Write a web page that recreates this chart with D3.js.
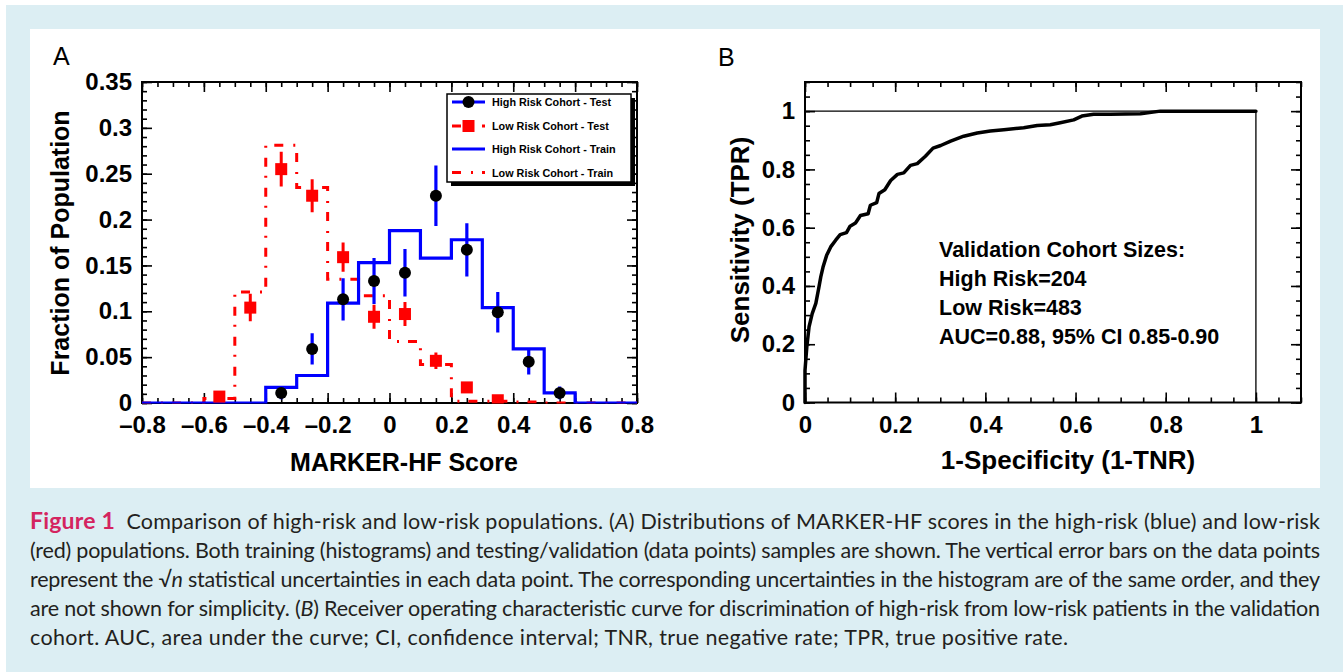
<!DOCTYPE html>
<html>
<head>
<meta charset="utf-8">
<script src="https://cdn.jsdelivr.net/npm/d3@7"></script>
<style>
  body { margin: 0; background: #fff; }
  svg { display: block; }
</style>
</head>
<body>
<svg id="fig"></svg>
<script>
// ---- panel A data ----
const binEdges = [-0.8, -0.7, -0.6, -0.5, -0.4, -0.3, -0.2, -0.1, 0, 0.1, 0.2, 0.3, 0.4, 0.5, 0.6, 0.7, 0.8]
const highTrain = [0, 0, 0, 0, 0.017, 0.030, 0.109, 0.153, 0.188, 0.158, 0.178, 0.104, 0.059, 0.011, 0, 0]
const lowTrain = [0, 0, 0.005, 0.121, 0.281, 0.235, 0.135, 0.117, 0.067, 0.042, 0.002, 0.002, 0.001, 0, 0, 0]

const highTestX = [-0.35, -0.25, -0.15, -0.05, 0.05, 0.15, 0.25, 0.35, 0.45, 0.55]
const highTestY = [0.011, 0.059, 0.113, 0.133, 0.142, 0.226, 0.167, 0.099, 0.045, 0.011]
const highTestErr = [0.007, 0.017, 0.023, 0.025, 0.026, 0.033, 0.029, 0.022, 0.014, 0.007]

const lowTestX = [-0.55, -0.45, -0.35, -0.25, -0.15, -0.05, 0.05, 0.15, 0.25, 0.35]
const lowTestY = [0.007, 0.104, 0.255, 0.226, 0.159, 0.094, 0.097, 0.046, 0.017, 0.003]
const lowTestErr = [0.004, 0.015, 0.019, 0.018, 0.016, 0.013, 0.013, 0.009, 0.006, 0.002]

const legendLabels = ['High Risk Cohort - Test', 'Low Risk Cohort - Test', 'High Risk Cohort - Train', 'Low Risk Cohort - Train']

const xTicksA = [-0.8, -0.6, -0.4, -0.2, 0, 0.2, 0.4, 0.6, 0.8]
const xTickLabelsA = ['\u20130.8', '\u20130.6', '\u20130.4', '\u20130.2', '0', '0.2', '0.4', '0.6', '0.8']
const yTicksA = [0, 0.05, 0.1, 0.15, 0.2, 0.25, 0.3, 0.35]
const yTickLabelsA = ['0', '0.05', '0.1', '0.15', '0.2', '0.25', '0.3', '0.35']

// ---- panel B data ----
const rocFPR = [0, 0, 0.004, 0.009, 0.016, 0.024, 0.031, 0.035, 0.040, 0.048, 0.057, 0.068, 0.078, 0.092, 0.100,
  0.112, 0.123, 0.140, 0.145, 0.159, 0.164, 0.177, 0.190, 0.205, 0.219, 0.234, 0.249, 0.267, 0.284, 0.301,
  0.323, 0.352, 0.382, 0.411, 0.441, 0.485, 0.515, 0.544, 0.566, 0.596, 0.614, 0.640, 0.677, 0.744, 0.788, 1]
const rocTPR = [0, 0.11, 0.19, 0.26, 0.305, 0.34, 0.397, 0.431, 0.465, 0.505, 0.534, 0.557, 0.576, 0.583, 0.605,
  0.616, 0.642, 0.648, 0.677, 0.686, 0.717, 0.730, 0.762, 0.783, 0.788, 0.814, 0.820, 0.845, 0.873, 0.882,
  0.897, 0.914, 0.925, 0.932, 0.936, 0.943, 0.951, 0.953, 0.960, 0.970, 0.983, 0.989, 0.989, 0.991, 1.0, 1.0]

const xTicksB = [0, 0.2, 0.4, 0.6, 0.8, 1]
const xTickLabelsB = ['0', '0.2', '0.4', '0.6', '0.8', '1']
const yTicksB = [0, 0.2, 0.4, 0.6, 0.8, 1]
const yTickLabelsB = ['0', '0.2', '0.4', '0.6', '0.8', '1']
const noteLines = ['Validation Cohort Sizes:', 'High Risk=204', 'Low Risk=483', 'AUC=0.88, 95% CI 0.85-0.90']

const captionLines = [
  [['Figure 1', 'fig'], ['  Comparison of high-risk and low-risk populations. (', ''], ['A', 'i'], [') Distributions of MARKER-HF scores in the high-risk (blue) and low-risk', '']],
  [['(red) populations. Both training (histograms) and testing/validation (data points) samples are shown. The vertical error bars on the data points', '']],
  [['represent the ', ''], ['\u221A', ''], ['n', 'i'], [' statistical uncertainties in each data point. The corresponding uncertainties in the histogram are of the same order, and they', '']],
  [['are not shown for simplicity. (', ''], ['B', 'i'], [') Receiver operating characteristic curve for discrimination of high-risk from low-risk patients in the validation', '']],
  [['cohort. AUC, area under the curve; CI, confidence interval; TNR, true negative rate; TPR, true positive rate.', '']]
]

const W = 1343, H = 672
const axisFont = '"Liberation Sans", Arial, Helvetica, sans-serif'
const blue = '#0000ff', red = '#ff0000'
const redDash = '9,10,2,9'

const svg = d3.select('#fig').attr('width', W).attr('height', H)

// background
svg.append('rect').attr('width', W).attr('height', H).attr('fill', '#fff')
svg.append('rect').attr('x', 6).attr('y', 5).attr('width', W - 6).attr('height', H - 5).attr('fill', '#dceef3')
svg.append('rect').attr('x', 30).attr('y', 29).attr('width', 1290).attr('height', 459).attr('fill', '#fff')

function drawTicks(g, x, y, xMajor, xMinor, yMajor, yMinor, xFmt, yFmt, xPad) {
  const [x0, x1] = x.range()
  const [y0, y1] = y.range()
  const style = sel => {
    sel.select('.domain').remove()
    sel.selectAll('line').attr('stroke', '#000').attr('stroke-width', 1.6)
    sel.selectAll('text').attr('font-family', axisFont).attr('font-weight', 'bold')
      .attr('font-size', '24px').attr('fill', '#000')
  }
  g.append('g').attr('transform', `translate(0,${y0})`)
    .call(d3.axisBottom(x).tickValues(xMajor).tickSizeInner(-10).tickSizeOuter(0).tickPadding(xPad).tickFormat(xFmt)).call(style)
  g.append('g').attr('transform', `translate(0,${y0})`)
    .call(d3.axisBottom(x).tickValues(xMinor).tickSize(-5).tickFormat('')).call(style)
  g.append('g').attr('transform', `translate(0,${y1})`)
    .call(d3.axisTop(x).tickValues(xMajor).tickSize(-10).tickFormat('')).call(style)
  g.append('g').attr('transform', `translate(0,${y1})`)
    .call(d3.axisTop(x).tickValues(xMinor).tickSize(-5).tickFormat('')).call(style)
  g.append('g').attr('transform', `translate(${x0},0)`)
    .call(d3.axisLeft(y).tickValues(yMajor).tickSizeInner(-10).tickSizeOuter(0).tickPadding(10).tickFormat(yFmt)).call(style)
  g.append('g').attr('transform', `translate(${x0},0)`)
    .call(d3.axisLeft(y).tickValues(yMinor).tickSize(-5).tickFormat('')).call(style)
  g.append('g').attr('transform', `translate(${x1},0)`)
    .call(d3.axisRight(y).tickValues(yMajor).tickSize(-10).tickFormat('')).call(style)
  g.append('g').attr('transform', `translate(${x1},0)`)
    .call(d3.axisRight(y).tickValues(yMinor).tickSize(-5).tickFormat('')).call(style)

  g.append('rect')
    .attr('x', x0).attr('y', y1)
    .attr('width', x1 - x0).attr('height', y0 - y1)
    .attr('fill', 'none').attr('stroke', '#000').attr('stroke-width', 2)
}

// ================= panel A =================
const xA = d3.scaleLinear().domain([-0.8, 0.8]).range([142, 637])
const yA = d3.scaleLinear().domain([0, 0.35]).range([403, 82])
const gA = svg.append('g')

drawTicks(gA, xA, yA,
  xTicksA, d3.range(-0.8, 0.801, 0.05).map(d => +d.toFixed(2)),
  yTicksA, d3.range(0, 0.351, 0.01).map(d => +d.toFixed(2)),
  (d, i) => xTickLabelsA[i], (d, i) => yTickLabelsA[i], 13)

gA.append('clipPath').attr('id', 'clipA').append('rect')
  .attr('x', 142).attr('y', 82).attr('width', 495).attr('height', 321.5)
const plotA = gA.append('g').attr('clip-path', 'url(#clipA)')

const histLine = d3.line().x(d => xA(d[0])).y(d => yA(d[1])).curve(d3.curveStepAfter)
const histPoints = vals => binEdges.map((e, i) => [e, i < vals.length ? vals[i] : vals[vals.length - 1]])

plotA.append('path').attr('d', histLine(histPoints(lowTrain)))
  .attr('fill', 'none').attr('stroke', red).attr('stroke-width', 3).attr('stroke-dasharray', redDash)
plotA.append('path').attr('d', histLine(histPoints(highTrain)))
  .attr('fill', 'none').attr('stroke', blue).attr('stroke-width', 3.2)

// low risk test points
lowTestX.forEach((xv, i) => {
  plotA.append('line')
    .attr('x1', xA(xv)).attr('x2', xA(xv))
    .attr('y1', yA(lowTestY[i] - lowTestErr[i])).attr('y2', yA(lowTestY[i] + lowTestErr[i]))
    .attr('stroke', red).attr('stroke-width', 3)
  plotA.append('rect')
    .attr('x', xA(xv) - 6).attr('y', yA(lowTestY[i]) - 6)
    .attr('width', 12).attr('height', 12).attr('fill', red)
})

// high risk test points
highTestX.forEach((xv, i) => {
  plotA.append('line')
    .attr('x1', xA(xv)).attr('x2', xA(xv))
    .attr('y1', yA(highTestY[i] - highTestErr[i])).attr('y2', yA(highTestY[i] + highTestErr[i]))
    .attr('stroke', blue).attr('stroke-width', 3.2)
  plotA.append('circle')
    .attr('cx', xA(xv)).attr('cy', yA(highTestY[i])).attr('r', 6).attr('fill', '#000')
})

// legend
const lg = gA.append('g')
lg.append('rect').attr('x', 451).attr('y', 98).attr('width', 184).attr('height', 88).attr('fill', '#000')
lg.append('rect').attr('x', 447).attr('y', 94).attr('width', 184).attr('height', 88)
  .attr('fill', '#fff').attr('stroke', '#000').attr('stroke-width', 1.5)
const rowY = [102, 126, 149, 172.5]
const lx0 = 452, lx1 = 485, lxm = 468.5
lg.append('line').attr('x1', lx0).attr('x2', lx1).attr('y1', rowY[0]).attr('y2', rowY[0])
  .attr('stroke', blue).attr('stroke-width', 3)
lg.append('circle').attr('cx', lxm).attr('cy', rowY[0]).attr('r', 6).attr('fill', '#000')
lg.append('line').attr('x1', lx0).attr('x2', lx1).attr('y1', rowY[1]).attr('y2', rowY[1])
  .attr('stroke', red).attr('stroke-width', 3).attr('stroke-dasharray', '9,21')
lg.append('rect').attr('x', lxm - 6).attr('y', rowY[1] - 6).attr('width', 12).attr('height', 12).attr('fill', red)
lg.append('line').attr('x1', lx0).attr('x2', lx1).attr('y1', rowY[2]).attr('y2', rowY[2])
  .attr('stroke', blue).attr('stroke-width', 3)
lg.append('line').attr('x1', lx0).attr('x2', lx1).attr('y1', rowY[3]).attr('y2', rowY[3])
  .attr('stroke', red).attr('stroke-width', 3).attr('stroke-dasharray', redDash)
legendLabels.forEach((t, i) => {
  lg.append('text').attr('x', 492).attr('y', rowY[i] + 4)
    .attr('font-family', axisFont).attr('font-weight', 'bold').attr('font-size', '10.8px')
    .text(t)
})

// titles
gA.append('text').attr('x', 53).attr('y', 65)
  .attr('font-family', axisFont).attr('font-size', '25px').text('A')
gA.append('text').attr('transform', 'translate(69,243) rotate(-90)')
  .attr('text-anchor', 'middle').attr('font-family', axisFont).attr('font-weight', 'bold')
  .attr('font-size', '25px').text('Fraction of Population')
gA.append('text').attr('x', 404).attr('y', 471)
  .attr('text-anchor', 'middle').attr('font-family', axisFont).attr('font-weight', 'bold')
  .attr('font-size', '25px').text('MARKER-HF Score')

// ================= panel B =================
const xB = d3.scaleLinear().domain([0, 1.1]).range([805, 1301])
const yB = d3.scaleLinear().domain([0, 1.1]).range([402.5, 82])
const gB = svg.append('g')

drawTicks(gB, xB, yB,
  xTicksB, d3.range(0, 1.101, 0.05).map(d => +d.toFixed(2)),
  yTicksB, d3.range(0, 1.101, 0.05).map(d => +d.toFixed(2)),
  (d, i) => xTickLabelsB[i], (d, i) => yTickLabelsB[i], 13)

// reference lines at TPR = 1 and FPR = 1
gB.append('path')
  .attr('d', d3.line()([[xB(0), yB(1)], [xB(1), yB(1)], [xB(1), yB(0)]]))
  .attr('fill', 'none').attr('stroke', '#000').attr('stroke-width', 1.3)

const rocLine = d3.line().x((d, i) => xB(rocFPR[i])).y((d, i) => yB(rocTPR[i]))
gB.append('path').attr('d', rocLine(rocFPR))
  .attr('fill', 'none').attr('stroke', '#000').attr('stroke-width', 3.5)
  .attr('stroke-linejoin', 'round').attr('stroke-linecap', 'round')

noteLines.forEach((t, i) => {
  gB.append('text').attr('x', 939).attr('y', 257 + i * 29)
    .attr('font-family', axisFont).attr('font-weight', 'bold').attr('font-size', '21.5px')
    .text(t)
})

gB.append('text').attr('x', 718).attr('y', 66)
  .attr('font-family', axisFont).attr('font-size', '25px').text('B')
gB.append('text').attr('transform', 'translate(749,240) rotate(-90)')
  .attr('text-anchor', 'middle').attr('font-family', axisFont).attr('font-weight', 'bold')
  .attr('font-size', '26px').text('Sensitivity (TPR)')
gB.append('text').attr('x', 1068).attr('y', 469)
  .attr('text-anchor', 'middle').attr('font-family', axisFont).attr('font-weight', 'bold')
  .attr('font-size', '26px').text('1-Specificity (1-TNR)')

// ================= caption =================
const cap = svg.append('g')
  .attr('font-family', 'Lato, "Open Sans", "DejaVu Sans", sans-serif')
  .attr('font-size', '21.5px').attr('fill', '#231f20')
captionLines.forEach((parts, li) => {
  const t = cap.append('text').attr('x', 30).attr('y', 529 + li * 29)
    .attr('lengthAdjust', 'spacing')
    .attr('textLength', li < captionLines.length - 1 ? 1290 : 1038)
    .attr('xml:space', 'preserve')
  parts.forEach(([s, kind]) => {
    const sp = t.append('tspan').text(s)
    if (kind === 'fig') sp.attr('font-weight', 'bold').attr('fill', '#d4245f').attr('font-size', '23px')
    if (kind === 'i') sp.attr('font-style', 'italic')
  })
})
</script>
</body>
</html>
